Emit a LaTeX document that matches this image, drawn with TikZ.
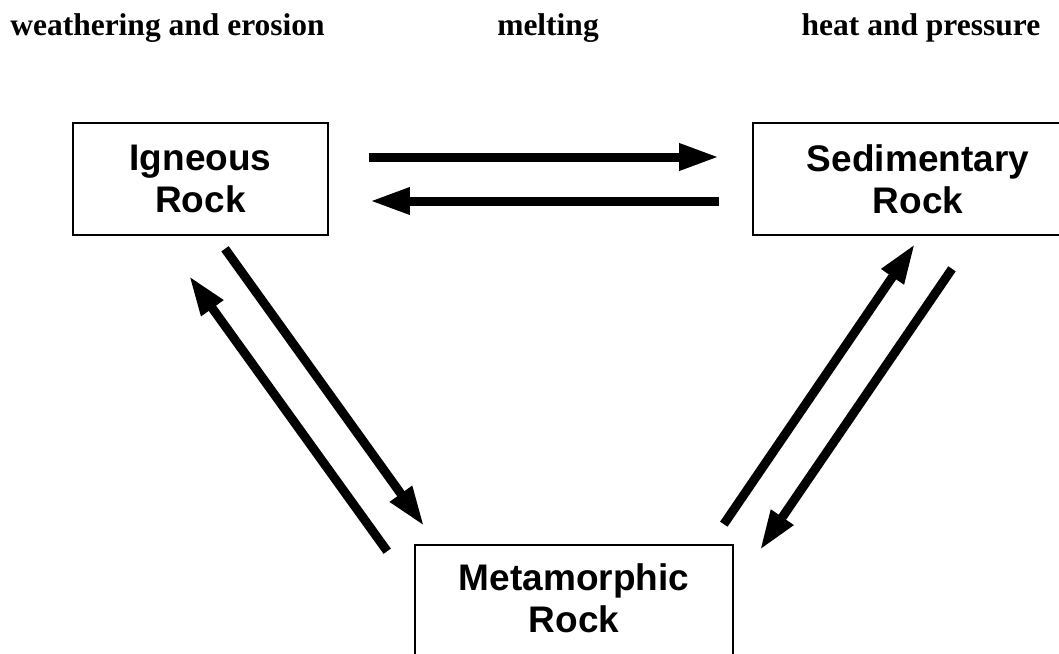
\documentclass[tikz,border=0pt]{standalone}
\usepackage{fontspec}
\newfontfamily\boxfont{Liberation Sans}
\newfontfamily\labfont{Liberation Serif}
\usetikzlibrary{arrows.meta,calc}
\tikzset{
  rockbox/.style={draw=black, line width=1.6pt, rectangle, inner sep=0pt,
    align=center, font=\boxfont\bfseries\fontsize{37}{42}\selectfont},
  toplabel/.style={anchor=base, inner sep=0pt, font=\labfont\bfseries\fontsize{31.5}{36}\selectfont},
  arr/.style={line width=9pt, -{Triangle[length=40pt,width=25pt]}}
}
\begin{document}
\begin{tikzpicture}[x=1pt,y=-1pt]
\path[use as bounding box, clip] (0,0) rectangle (1059,653);
\fill[white] (0,0) rectangle (1059,653);
% labels
\node[toplabel] (l1) at (167.5,35) {weathering and erosion};
\node[toplabel] (l2) at (548,35) {melting};
\node[toplabel] (l3) at (921,35) {heat and pressure};
% boxes
\node[rockbox, minimum width=255pt, minimum height=112pt] (ig) at (200.5,179) {Igneous\\Rock};
\node[rockbox, minimum width=330pt, minimum height=112pt] (sed) at (918,179) {Sedimentary\\Rock};
\node[rockbox, minimum width=318pt, minimum height=116pt] (met) at (574,603) {Metamorphic\\Rock\rule[-9pt]{0pt}{0pt}};
% horizontal arrows
\draw[arr] ([shift={(40,-22)}]ig.east) -- ([shift={(-33,-22)}]sed.west);
\draw[arr] ([shift={(-33,22)}]sed.west) -- ([shift={(41,22)}]ig.east);
% left diagonals
\draw[arr] ([shift={(24.5,13)}]ig.south) -- ([shift={(10,-18)}]met.north west);
\draw[arr] ([shift={(-27,7)}]met.north west) -- ([shift={(-11.5,40)}]ig.south);
% right diagonals
\draw[arr] ([shift={(-10,-20)}]met.north east) -- ([shift={(-3,8)}]sed.south);
\draw[arr] ([shift={(34,33)}]sed.south) -- ([shift={(26,6)}]met.north east);
\end{tikzpicture}
\end{document}
